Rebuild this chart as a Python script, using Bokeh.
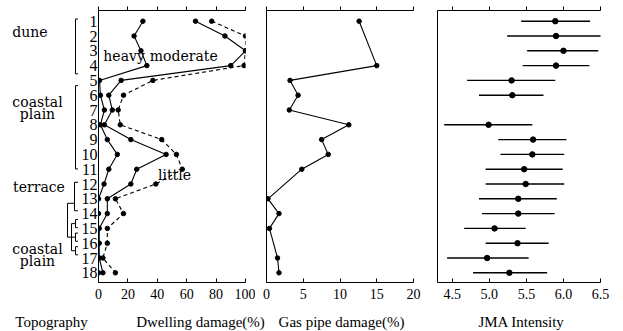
from bokeh.plotting import figure
from bokeh.layouts import row, column
from bokeh.models import Range1d, FixedTicker, LinearAxis, PrintfTickFormatter
from bokeh.core.properties import value
from bokeh.embed import file_html
from bokeh.resources import INLINE

# ---------------- data ----------------
rows = list(range(1, 19))
row_labels = [str(r) for r in rows]

heavy = [30.2, 24.2, 28.9, 32.9, 0.7, 1.3, 4.0, 1.3, 6.0, 12.8, 7.0, 3.8, 0, 0, 0, 0, 0, 0]
moderate = [66, 86, 100, 90, 15.4, 7, 9.4, 4, 22, 46, 26, 22, 6, 6, 0.5, 0.5, 0.5, 3]
little = [77, 100, 100, 99, 37, 17, 13.4, 14.8, 43, 53, 57, 39, 11.5, 17, 6, 6, 3, 11.5]

gas_rows = [1, 4, 5, 6, 7, 8, 9, 10, 11, 13, 14, 15, 17, 18]
gas_damage = [12.6, 15.0, 3.2, 4.3, 3.1, 11.2, 7.5, 8.4, 4.8, 0.2, 1.7, 0.4, 1.5, 1.7]

jma_rows = [1, 2, 3, 4, 5, 6, 8, 9, 10, 11, 12, 13, 14, 15, 16, 17, 18]
jma_mean = [5.89, 5.90, 6.00, 5.90, 5.30, 5.31, 4.99, 5.59, 5.58, 5.47, 5.49, 5.39, 5.39, 5.07, 5.38, 4.97, 5.27]
jma_low = [5.43, 5.24, 5.51, 5.45, 4.70, 4.86, 4.39, 5.12, 5.15, 4.95, 4.95, 4.86, 4.90, 4.66, 4.95, 4.43, 4.78]
jma_high = [6.36, 6.54, 6.47, 6.35, 5.89, 5.73, 5.58, 6.04, 6.01, 5.99, 6.01, 5.91, 5.88, 5.49, 5.80, 5.53, 5.78]

dwelling_ticks = [0, 20, 40, 60, 80, 100]
gas_ticks = [0, 5, 10, 15, 20]
jma_ticks = [4.5, 5.0, 5.5, 6.0, 6.5]

group_words = ["dune", "coastal", "plain", "terrace", "coastal", "plain"]
series_names = ["heavy", "moderate", "little"]
axis_titles = ["Topography", "Dwelling damage(%)", "Gas pipe damage(%)", "JMA Intensity"]

# ---------------- layout constants ----------------
TOP = 10
FRAME_H = 272
ROW_H = 307
BOT = ROW_H - TOP - FRAME_H
STRIP_H = 24
Y_TOP = 0.277
Y_BOT = 18.655
SERIF = "Liberation Serif"
SERIF2 = "DejaVu Serif"

yr = Range1d(start=Y_BOT, end=Y_TOP)


def clean(p):
    p.xgrid.visible = False
    p.ygrid.visible = False
    p.outline_line_color = None
    p.background_fill_color = "white"
    p.border_fill_color = "white"


def style_bottom(ax, ticks):
    ax.ticker = FixedTicker(ticks=ticks)
    ax.axis_line_color = "black"
    ax.axis_line_width = 1
    ax.major_tick_in = 4
    ax.major_tick_out = 0
    ax.major_tick_line_color = "black"
    ax.minor_tick_in = 0
    ax.minor_tick_out = 0
    ax.major_label_standoff = 6
    ax.major_label_text_font = SERIF
    ax.major_label_text_font_size = "14px"
    ax.major_label_text_color = "black"


def add_top(p, ticks):
    ax = LinearAxis(ticker=FixedTicker(ticks=ticks))
    ax.axis_line_color = "black"
    ax.major_tick_in = 0
    ax.major_tick_out = 4
    ax.minor_tick_in = 0
    ax.minor_tick_out = 0
    ax.major_label_standoff = 0
    ax.major_label_text_font_size = "0px"
    ax.major_label_text_alpha = 0
    p.add_layout(ax, "above")


def plain_left(ax):
    ax.axis_line_color = "black"
    ax.major_tick_in = 0
    ax.major_tick_out = 0
    ax.minor_tick_in = 0
    ax.minor_tick_out = 0
    ax.major_label_standoff = 0
    ax.major_label_text_font_size = "0px"
    ax.major_label_text_alpha = 0


# ---------------- topography column ----------------
fig0_bottom = Y_TOP + (ROW_H - TOP) * (Y_BOT - Y_TOP) / FRAME_H
p0 = figure(width=78, height=ROW_H, x_range=Range1d(0, 78), y_range=Range1d(fig0_bottom, Y_TOP),
            min_border_left=0, min_border_right=0, min_border_top=TOP, min_border_bottom=0,
            x_axis_location=None, y_axis_location=None,
            output_backend="svg", toolbar_location=None)
clean(p0)

br_xs = [
    [79, 75, 75, 79],
    [79, 75, 75, 79],
    [78, 74, 74, 78],
    [78, 75, 75, 78],
    [78, 75, 75, 78],
    [78, 75, 75, 78],
    [74, 67, 67, 75],
    [75, 71, 71, 75],
]
br_ys = [
    [0.9, 0.9, 4.95, 4.95],
    [5.82, 5.82, 11.97, 11.97],
    [12.95, 12.95, 15.05, 15.05],
    [15.7, 15.7, 16.3, 16.3],
    [16.7, 16.7, 17.3, 17.3],
    [17.7, 17.7, 18.3, 18.3],
    [14.5, 14.5, 17.0, 17.0],
    [16.0, 16.0, 18.0, 18.0],
]
p0.multi_line(xs=br_xs, ys=br_ys, line_color="black", line_width=1)

gx = [29.5, 37, 37, 38.5, 37, 37]
gy = [1.83, 7.03, 7.9, 13.3, 17.86, 18.74]
p0.text(x=gx, y=gy, text=group_words, text_font=value(SERIF2), text_font_size="14px",
        text_align="center", text_baseline="middle", text_color="black")

# ---------------- dwelling damage ----------------
p1 = figure(width=177, height=ROW_H, x_range=Range1d(0, 100), y_range=yr,
            min_border_left=18, min_border_right=10, min_border_top=TOP, min_border_bottom=BOT,
            output_backend="svg", toolbar_location=None)
clean(p1)
style_bottom(p1.xaxis[0], dwelling_ticks)
add_top(p1, dwelling_ticks)
ya = p1.yaxis[0]
ya.ticker = FixedTicker(ticks=rows)
ya.major_label_overrides = {r: lab for r, lab in zip(rows, row_labels)}
ya.axis_line_color = "black"
ya.major_tick_in = 0
ya.major_tick_out = 0
ya.minor_tick_in = 0
ya.minor_tick_out = 0
ya.major_label_standoff = 1
ya.major_label_text_font = SERIF
ya.major_label_text_font_size = "16px"
ya.major_label_text_color = "black"

p1.line(x=heavy, y=rows, line_color="black", line_width=1.1)
p1.line(x=moderate, y=rows, line_color="black", line_width=1.1)
p1.line(x=little, y=rows, line_color="black", line_width=1.1, line_dash="4 3")
for ser in (heavy, moderate, little):
    p1.scatter(x=ser, y=rows, marker="circle", size=4.5, color="black")

p1.text(x=[17.4, 58.0, 51.7], y=[3.32, 3.32, 11.36], text=series_names,
        text_font=value(SERIF2), text_font_size="14px", text_align="center",
        text_baseline="middle", text_color="black")

# ---------------- gas pipe damage ----------------
p2 = figure(width=166, height=ROW_H, x_range=Range1d(0, 20), y_range=yr,
            min_border_left=11, min_border_right=8, min_border_top=TOP, min_border_bottom=BOT,
            output_backend="svg", toolbar_location=None)
clean(p2)
style_bottom(p2.xaxis[0], gas_ticks)
add_top(p2, gas_ticks)
plain_left(p2.yaxis[0])
p2.line(x=gas_damage, y=gas_rows, line_color="black", line_width=1.1)
p2.scatter(x=gas_damage, y=gas_rows, marker="circle", size=4.5, color="black")

# ---------------- JMA intensity ----------------
p3 = figure(width=202, height=ROW_H, x_range=Range1d(4.3, 6.5), y_range=yr,
            min_border_left=16, min_border_right=23, min_border_top=TOP, min_border_bottom=BOT,
            output_backend="svg", toolbar_location=None)
clean(p3)
style_bottom(p3.xaxis[0], jma_ticks)
p3.xaxis[0].formatter = PrintfTickFormatter(format="%.1f")
add_top(p3, jma_ticks)
plain_left(p3.yaxis[0])
p3.segment(x0=jma_low, y0=jma_rows, x1=jma_high, y1=jma_rows, line_color="black", line_width=1.4)
p3.scatter(x=jma_mean, y=jma_rows, marker="circle", size=5.5, color="black")

# ---------------- axis titles strip ----------------
ps = figure(width=623, height=STRIP_H, x_range=Range1d(0, 623), y_range=Range1d(STRIP_H, 0),
            min_border_left=0, min_border_right=0, min_border_top=0, min_border_bottom=0,
            x_axis_location=None, y_axis_location=None,
            output_backend="svg", toolbar_location=None)
clean(ps)
ps.text(x=[51, 200, 341, 521], y=[14, 14, 14, 14], text=axis_titles,
        text_font=value(SERIF), text_font_size="15px", text_align="center",
        text_baseline="alphabetic", text_color="black")

layout = column(row(p0, p1, p2, p3), ps)

open("out.html", "w").write(file_html(layout, INLINE))
